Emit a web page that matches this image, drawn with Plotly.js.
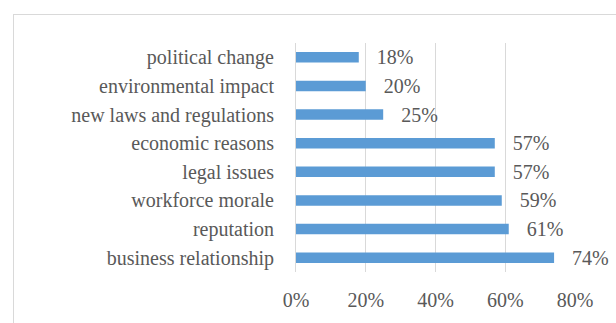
<!DOCTYPE html>
<html>
<head>
<meta charset="utf-8">
<script src="https://cdn.plot.ly/plotly-3.0.1.min.js"></script>
<style>
html,body{margin:0;padding:0;background:#fff;overflow:hidden;font-family:'Liberation Serif',serif;}
#frame{position:absolute;left:13px;top:14px;width:800px;height:500px;border:1px solid #d9d9d9;box-sizing:border-box;}
#chart{position:absolute;left:0;top:0;width:616px;height:323px;}
#chart svg text{font-family:'Liberation Serif','Times New Roman',serif !important;}
</style>
</head>
<body>
<div id="frame"></div>
<div id="chart"></div>
<script>
const categories = ["political change","environmental impact","new laws and regulations","economic reasons","legal issues","workforce morale","reputation","business relationship"];
const values = [0.18,0.20,0.25,0.57,0.57,0.59,0.61,0.74];
const xTickVals = [0,0.2,0.4,0.6,0.8];

function mkFont(){ return {family:"Liberation Serif", size:20, color:"#595959"}; }

Plotly.newPlot("chart",[{
  type:"bar",
  orientation:"h",
  y:categories,
  x:values,
  marker:{color:"#5B9BD5"},
  texttemplate:"\u00A0\u00A0\u00A0%{x:.0%}",
  textposition:"outside",
  textfont:mkFont(),
  cliponaxis:false,
  constraintext:"none",
  hoverinfo:"none"
}],{
  width:616,height:323,
  margin:{l:295.5,r:40.7,t:43,b:51,pad:0},
  paper_bgcolor:"rgba(0,0,0,0)",
  plot_bgcolor:"rgba(0,0,0,0)",
  bargap:0.63,
  showlegend:false,
  font:mkFont(),
  xaxis:{range:[0,0.8],tickvals:xTickVals,tickformat:".0%",showgrid:true,gridcolor:"#d9d9d9",gridwidth:1,zeroline:false,showline:false,ticks:"",ticklabelstandoff:14,fixedrange:true},
  yaxis:{autorange:"reversed",showgrid:false,zeroline:false,showline:true,linecolor:"#d9d9d9",linewidth:1,ticks:"",ticklabelstandoff:17,fixedrange:true}
},{displayModeBar:false});
</script>
</body>
</html>
